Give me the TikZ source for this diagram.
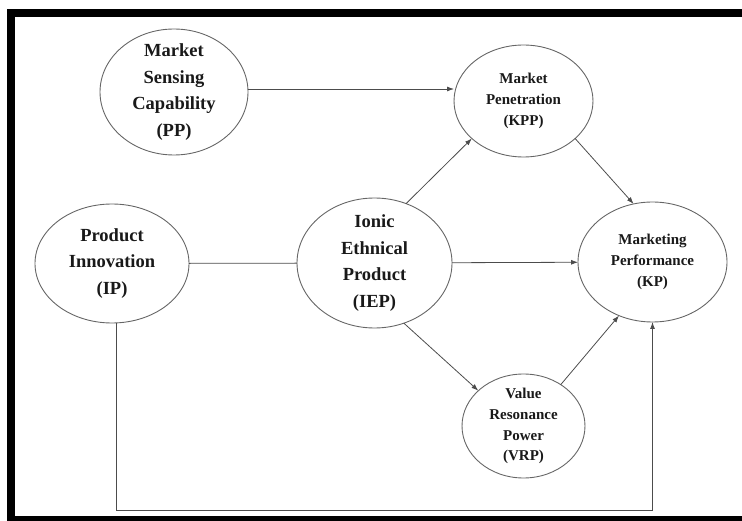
\documentclass[tikz,border=0pt]{standalone}
\usepackage{fontspec}
\setmainfont{Liberation Serif}
\usetikzlibrary{shapes.geometric,arrows.meta}

\begin{document}
\begin{tikzpicture}[x=1pt,y=-1pt,
    construct/.style={draw=black!60, line width=0.9pt, ellipse, inner sep=-20pt, outer sep=0pt, align=center, text=black!90},
    bigtext/.style={font=\bfseries\fontsize{18.5}{26.7}\selectfont},
    smalltext/.style={font=\bfseries\fontsize{15}{20.8}\selectfont},
    plainlink/.style={draw=black!70, line width=0.8pt},
    link/.style={plainlink, -{Latex[length=7pt,width=5pt]}}]
    \useasboundingbox (0,0) rectangle (742,521);
    \clip (0,0) rectangle (742,521);
    \draw[line width=8pt] (11,13) rectangle (760,520);

    \node[construct, bigtext, minimum width=148pt, minimum height=126pt] (PP) at (174,92) {Market\\Sensing\\Capability\\(PP)};
    \node[construct, smalltext, minimum width=139pt, minimum height=112pt] (KPP) at (523.5,101) {Market\\Penetration\\(KPP)};
    \node[construct, bigtext, minimum width=154pt, minimum height=119pt] (IP) at (112,263.5) {Product\\Innovation\\(IP)};
    \node[construct, bigtext, minimum width=155pt, minimum height=130pt] (IEP) at (374.5,263) {Ionic\\Ethnical\\Product\\(IEP)};
    \node[construct, smalltext, minimum width=149pt, minimum height=120pt] (KP) at (652.5,262) {Marketing\\Performance\\(KP)};
    \node[construct, smalltext, minimum width=123pt, minimum height=104pt] (VRP) at (523.5,426) {Value\\Resonance\\Power\\(VRP)};
    \coordinate (base) at (0,510);

    \draw[link] ([yshift=3pt]PP.east) -- ([yshift=3pt]PP.east -| KPP.west);
    \draw[link] (IEP.62) -- (KPP.216);
    \draw[link] (KPP.-36) -- (KP.108);
    \draw[plainlink] (IP) -- (IEP);
    \draw[link] (IEP) -- (KP);
    \draw[link] (IEP.-64) -- (VRP.142);
    \draw[link] (VRP.48) -- (KP.238);
    \draw[link] ([xshift=4pt]IP.south) |- (KP.south |- base) -- (KP.south);
\end{tikzpicture}
\end{document}
